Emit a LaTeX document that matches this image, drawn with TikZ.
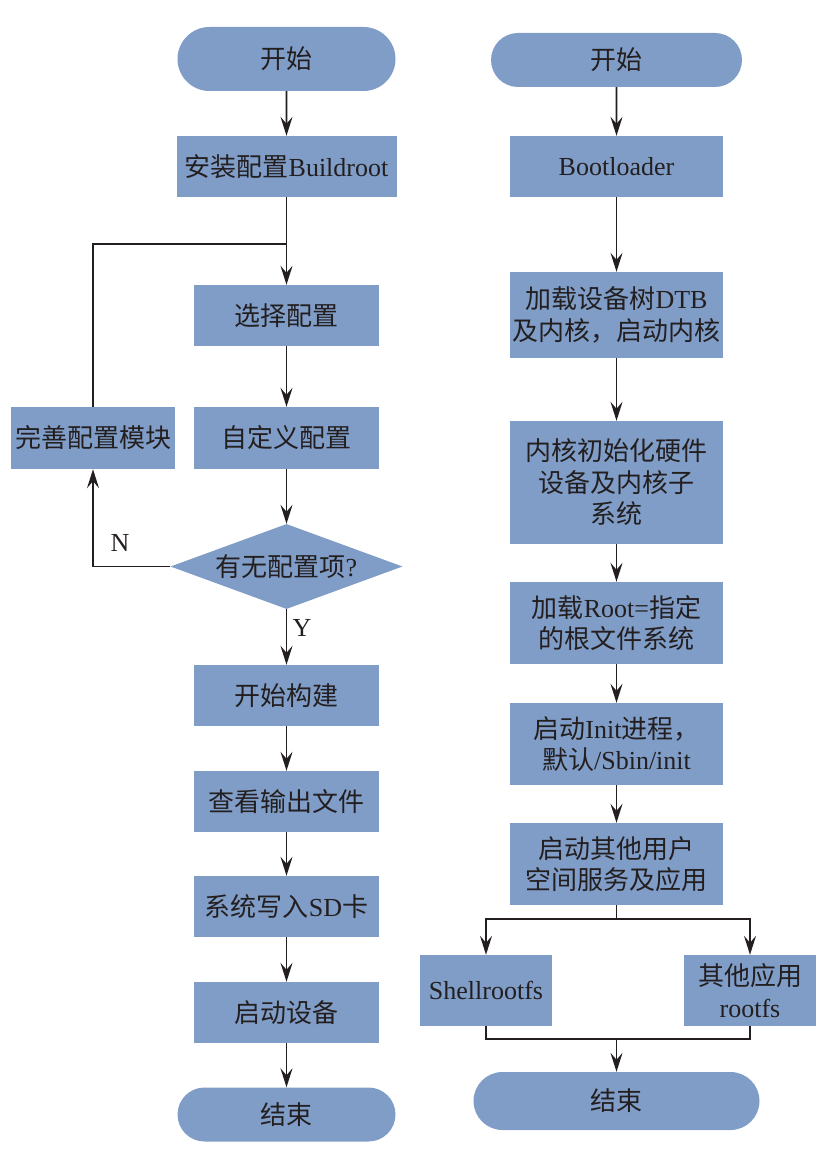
\documentclass[tikz,border=0pt]{standalone}
\usepackage{fontspec}
\setmainfont{Liberation Serif}
\newfontfamily\cjk{Noto Sans CJK SC}
\usetikzlibrary{arrows.meta,shapes.geometric,shapes.misc}
\definecolor{boxfill}{RGB}{128,157,199}
\definecolor{txt}{RGB}{35,31,32}
\newcommand{\zh}[1]{{\cjk #1}}
\tikzset{
  base/.style={fill=boxfill, draw=none, inner sep=0pt, align=center, text=txt,
    font=\fontsize{26}{31.5}\selectfont},
  procbox/.style={base, rectangle},
  pill/.style={base, rounded rectangle, rounded rectangle arc length=180},
  decide/.style={base, diamond, aspect=2.73},
  conn/.style={line width=1.8pt, draw=txt},
  arr/.style={conn, -{Stealth[length=19pt,width=12pt,inset=7pt]}},
  lbl/.style={text=txt, font=\fontsize{26}{31.5}\selectfont, inner sep=0pt}
}
\begin{document}
\begin{tikzpicture}[x=1pt,y=-1pt]
\useasboundingbox (0,0) rectangle (830,1158);
% ---------- left column ----------
\node[pill, minimum width=218, minimum height=64] (ls) at (286.5,59) {\zh{开始}};
\node[procbox, minimum width=220, minimum height=61] (lb) at (286.5,166.5) {\zh{安装配置}Buildroot};
\node[procbox, minimum width=185, minimum height=61] (lsel) at (286.5,315.5) {\zh{选择配置}};
\node[procbox, minimum width=164, minimum height=62] (lfix) at (93,438) {\zh{完善配置模块}};
\node[procbox, minimum width=185, minimum height=62] (lcus) at (286.5,438) {\zh{自定义配置}};
\node[decide, minimum width=232, minimum height=85] (ldia) at (286.5,566.5) {\zh{有无配置项}?};
\node[procbox, minimum width=185, minimum height=61] (lbuild) at (286.5,695.5) {\zh{开始构建}};
\node[procbox, minimum width=185, minimum height=61] (lview) at (286.5,801.5) {\zh{查看输出文件}};
\node[procbox, minimum width=185, minimum height=61] (lsd) at (286.5,906.5) {\zh{系统写入}SD\zh{卡}};
\node[procbox, minimum width=185, minimum height=61] (lboot) at (286.5,1012.5) {\zh{启动设备}};
\node[pill, minimum width=218, minimum height=54] (le) at (286.5,1114.5) {\zh{结束}};
\node[lbl] (nlab) at (120,543) {N};
\node[lbl] (ylab) at (302,628) {Y};
\coordinate (lj) at (286.5,244);

\draw[arr] (ls) -- (lb);
\draw[arr] (lb) -- (lsel);
\draw[conn] (lfix.north) |- (lj);
\draw[arr] (lsel) -- (lcus);
\draw[arr] (lcus) -- (ldia);
\draw[arr] (ldia.west) -| (lfix.south);
\draw[arr] (ldia.south) -- (lbuild);
\draw[arr] (lbuild) -- (lview);
\draw[arr] (lview) -- (lsd);
\draw[arr] (lsd) -- (lboot);
\draw[arr] (lboot) -- (le);

% ---------- right column ----------
\node[pill, minimum width=251, minimum height=54] (rs) at (616.5,60) {\zh{开始}};
\node[procbox, minimum width=213, minimum height=61] (rbl) at (616.5,166.5) {Bootloader};
\node[procbox, minimum width=213, minimum height=86] (rdtb) at (616.5,315) {\zh{加载设备树}DTB\\\zh{及内核，启动内核}};
\node[procbox, minimum width=213, minimum height=123] (rk) at (616.5,482.5) {\zh{内核初始化硬件}\\\zh{设备及内核子}\\\zh{系统}};
\node[procbox, minimum width=213, minimum height=82] (rroot) at (616.5,623) {\zh{加载}Root=\zh{指定}\\\zh{的根文件系统}};
\node[procbox, minimum width=213, minimum height=82] (rinit) at (616.5,744) {\zh{启动}Init\zh{进程，}\\\zh{默认}/Sbin/init};
\node[procbox, minimum width=213, minimum height=82] (rapp) at (616.5,864) {\zh{启动其他用户}\\\zh{空间服务及应用}};
\node[procbox, minimum width=132, minimum height=71] (rsh) at (486,990.5) {Shellrootfs};
\node[procbox, minimum width=132, minimum height=71] (rot) at (750,990.5) {\zh{其他应用}\\rootfs};
\node[pill, minimum width=286, minimum height=58] (re) at (616.5,1101) {\zh{结束}};
\coordinate (rj1) at (616.5,919);
\coordinate (rj2) at (616.5,1039);

\draw[arr] (rs) -- (rbl);
\draw[arr] (rbl) -- (rdtb);
\draw[arr] (rdtb) -- (rk);
\draw[arr] (rk) -- (rroot);
\draw[arr] (rroot) -- (rinit);
\draw[arr] (rinit) -- (rapp);
\draw[conn] (rapp.south) -- (rj1);
\draw[arr] (rj1) -| (rsh.north);
\draw[arr] (rj1) -| (rot.north);
\draw[conn] (rsh.south) |- (rj2) -| (rot.south);
\draw[arr] (rj2) -- (re);
\end{tikzpicture}
\end{document}
